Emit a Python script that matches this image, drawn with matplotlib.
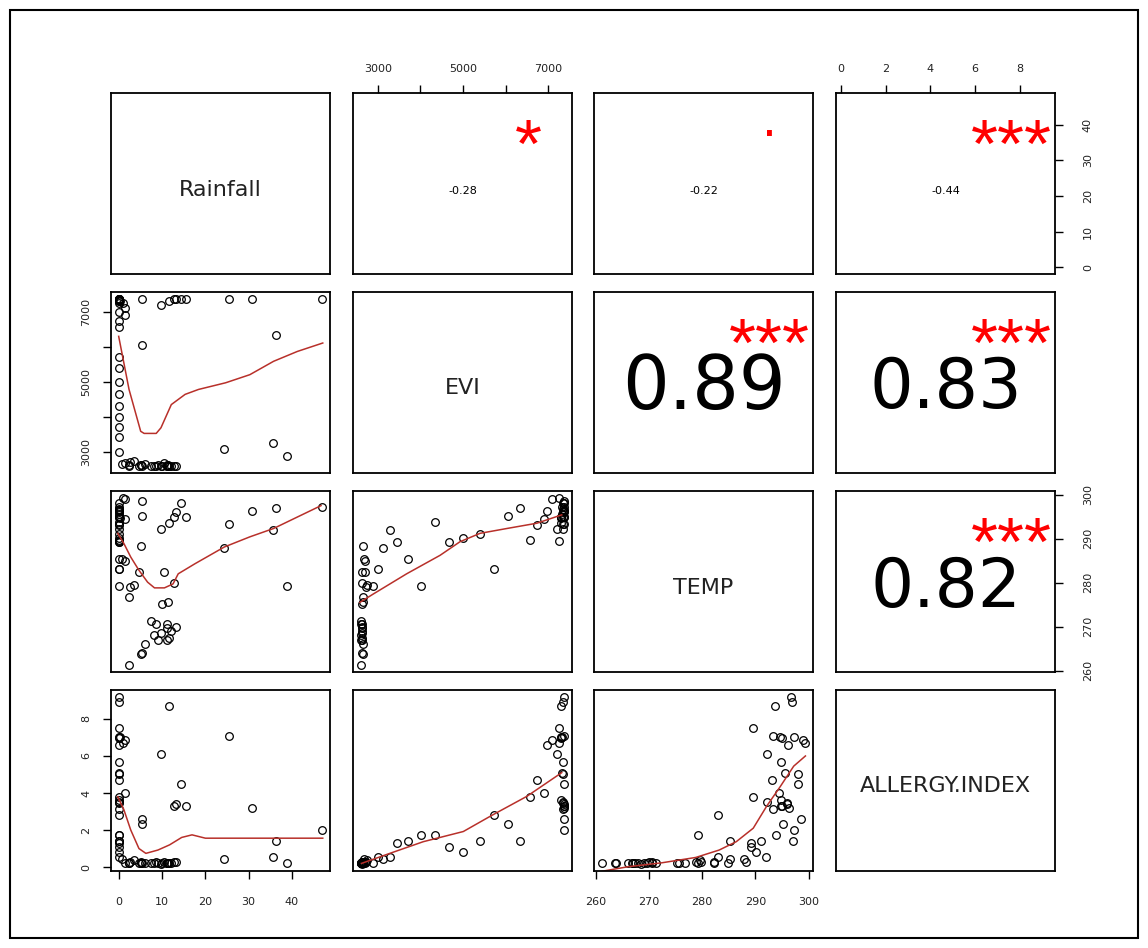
import matplotlib
matplotlib.use('Agg')
import matplotlib.pyplot as plt
from matplotlib import transforms
from matplotlib.patches import Rectangle

names = ['Rainfall', 'EVI', 'TEMP', 'ALLERGY.INDEX']

# observations: high-EVI group, intermediate group, low-EVI group
rain = [0.0, 0.0, 11.6, 0.0, 25.5, 0.0, 0.0, 0.3, 1.4, 0.0, 9.7, 0.0, 0.0, 0.0,
        0.0, 14.4, 1.4, 0.0, 0.0, 0.0, 0.0, 12.7, 15.4, 30.7, 0.0, 5.2, 47.0, 36.4,
        0.8, 13.2,
        5.4, 0.0, 0.0, 0.0, 0.0, 0.0, 0.0, 0.0, 0.0, 35.7, 24.4, 38.8, 0.0,
        5.0, 0.7, 1.4, 4.7, 10.5, 12.7, 2.6, 3.5, 2.4, 10.0, 11.4, 7.5, 8.5,
        11.0, 11.0, 9.6, 11.6, 11.0, 5.4, 5.1, 2.4, 8.0, 12.0, 13.2, 9.0, 6.0]
evi = [7370, 7350, 7300, 7250, 7370, 7330, 7300, 7310, 7100, 6980, 7200, 7340, 7320, 7360,
       6745, 7370, 6900, 6575, 7300, 7340, 7360, 7370, 7370, 7370, 7350, 7370, 7370, 6350,
       7255, 7370,
       6060, 5720, 5410, 5010, 4670, 4330, 4020, 3710, 3450, 3280, 3110, 2890, 3000,
       2650, 2680, 2700, 2620, 2700, 2620, 2720, 2750, 2650, 2620, 2640, 2610, 2620,
       2610, 2630, 2615, 2620, 2610, 2620, 2640, 2610, 2605, 2615, 2620, 2630, 2660]
temp = [296.6, 296.8, 293.6, 289.5, 293.3, 297.2, 295.0, 294.7, 299.0, 296.2, 292.2, 294.9, 295.6, 298.0,
        293.1, 298.0, 294.5, 289.6, 294.9, 292.2, 296.0, 294.9, 295.0, 296.3, 293.3, 298.6, 297.3, 297.0,
        299.3, 296.0,
        295.2, 283.0, 291.0, 290.1, 289.2, 293.8, 279.3, 285.3, 289.2, 292.0, 287.8, 279.3, 283.0,
        288.3, 285.3, 284.8, 282.3, 282.3, 279.8, 278.9, 279.5, 276.8, 275.2, 275.6, 271.3, 270.6,
        270.6, 269.7, 268.5, 267.4, 266.9, 263.9, 263.7, 261.2, 268.0, 269.0, 270.0, 267.0, 266.0]
allergy = [9.2, 8.9, 8.7, 7.5, 7.1, 7.0, 6.95, 7.0, 6.85, 6.6, 6.1, 5.65, 5.1, 5.0,
           4.7, 4.5, 4.0, 3.8, 3.6, 3.5, 3.45, 3.3, 3.3, 3.2, 3.15, 2.6, 2.0, 1.4,
           6.7, 3.4,
           2.3, 2.8, 1.4, 0.8, 1.1, 1.75, 1.75, 1.4, 1.3, 0.55, 0.45, 0.2, 0.55,
           0.3, 0.45, 0.2, 0.2, 0.25, 0.3, 0.25, 0.4, 0.2, 0.2, 0.2, 0.2, 0.25,
           0.2, 0.2, 0.15, 0.2, 0.2, 0.2, 0.2, 0.2, 0.2, 0.2, 0.25, 0.2, 0.2]

# smoother lines
sm_evi_rain_x = [-0.1, 2.3, 5.0, 5.8, 8.6, 9.7, 10.9, 12.1, 15.3, 18.4, 24.7, 30.3, 35.8, 41.3, 47.2]
sm_evi_rain_y = [6300, 4790, 3600, 3540, 3540, 3700, 4030, 4360, 4650, 4790, 4980, 5210, 5590, 5870, 6110]
sm_temp_rain_x = [-0.3, 1.1, 2.7, 4.6, 6.6, 8.2, 10.5, 12.5, 13.7, 17.6, 24.4, 30.3, 35.8, 46.8]
sm_temp_rain_y = [291.2, 288.9, 285.8, 282.8, 280.1, 278.8, 278.8, 279.7, 282.0, 284.3, 288.1, 290.4, 292.3, 297.5]
sm_all_rain_x = [-0.3, 1.1, 2.7, 4.6, 6.2, 9.0, 11.7, 14.5, 16.9, 20.0, 47.2]
sm_all_rain_y = [3.8, 3.1, 2.0, 1.0, 0.74, 0.92, 1.2, 1.6, 1.74, 1.56, 1.56]
sm_temp_evi_x = [2576, 2890, 3675, 4460, 4930, 5400, 6030, 6735, 7320]
sm_temp_evi_y = [275.5, 277.4, 282.0, 286.2, 289.3, 291.2, 292.3, 293.5, 295.4]
sm_all_evi_x = [2616, 3280, 4065, 5007, 5675, 6500, 7320]
sm_all_evi_y = [0.2, 0.74, 1.37, 1.92, 2.79, 3.82, 5.1]
sm_all_temp_x = [260.7, 266.1, 272.4, 278.8, 283.2, 286.4, 289.6, 292.1, 294.7, 297.2, 299.4]
sm_all_temp_y = [-0.25, 0.02, 0.23, 0.52, 0.92, 1.37, 2.1, 3.28, 4.36, 5.45, 6.0]

# upper panels: (row, col), correlation, stars
cor_cells = [(0, 1), (0, 2), (0, 3), (1, 2), (1, 3), (2, 3)]
cor_values = [-0.28, -0.22, -0.44, 0.89, 0.83, 0.82]
cor_stars = ['*', '.', '***', '***', '***', '***']

rain_ticks = [0, 10, 20, 30, 40]
evi_ticks = [3000, 4000, 5000, 6000, 7000]
evi_labels = ['3000', '', '5000', '', '7000']
temp_ticks = [260, 270, 280, 290, 300]
allergy_ticks = [0, 2, 4, 6, 8]

data = [rain, evi, temp, allergy]
ticks = [rain_ticks, evi_ticks, temp_ticks, allergy_ticks]
labels = [[str(t) for t in rain_ticks], evi_labels,
          [str(t) for t in temp_ticks], [str(t) for t in allergy_ticks]]
smooth = {(1, 0): (sm_evi_rain_x, sm_evi_rain_y), (2, 0): (sm_temp_rain_x, sm_temp_rain_y),
          (3, 0): (sm_all_rain_x, sm_all_rain_y), (2, 1): (sm_temp_evi_x, sm_temp_evi_y),
          (3, 1): (sm_all_evi_x, sm_all_evi_y), (3, 2): (sm_all_temp_x, sm_all_temp_y)}


def rlim(v):
    lo, hi = min(v), max(v)
    e = (hi - lo) * 0.04
    return lo - e, hi + e


def shifted(ax, dy):
    return transforms.offset_copy(ax.transAxes, fig=fig, x=0, y=dy, units='dots')


lims = [rlim(v) for v in data]

fig = plt.figure(figsize=(11.48, 9.48), dpi=100)
FW, FH = 1148, 948
col_left = [111, 353, 594, 836]
row_top = [93, 292, 491, 690]
PW, PH = 219, 181
tick_col = '#222222'

for i in range(4):
    for j in range(4):
        ax = fig.add_axes([col_left[j] / FW, 1 - (row_top[i] + PH) / FH, PW / FW, PH / FH])
        ax.set_xlim(lims[j])
        ax.set_ylim(lims[i])
        for s in ax.spines.values():
            s.set_linewidth(1.3)
        ax.set_xticks([])
        ax.set_yticks([])
        ax.tick_params(direction='out', length=6, width=1, colors='black', labelsize=8,
                       labelcolor=tick_col, pad=8)

        if i == 0 and j in (1, 3):
            ax.xaxis.tick_top()
            ax.set_xticks(ticks[j])
            ax.set_xticklabels(labels[j])
        if i == 3 and j in (0, 2):
            ax.set_xticks(ticks[j])
            ax.set_xticklabels(labels[j])
            ax.tick_params(axis='x', pad=13)
        if j == 0 and i in (1, 3):
            ax.set_yticks(ticks[i])
            ax.set_yticklabels(labels[i], rotation=90, va='center')
        if j == 3 and i in (0, 2):
            ax.yaxis.tick_right()
            ax.set_yticks(ticks[i])
            ax.set_yticklabels(labels[i], rotation=90, va='center')
            ax.tick_params(axis='y', pad=14)

        if i == j:
            ax.text(0.5, 0.5, names[i], transform=shifted(ax, -6), ha='center', va='center',
                    fontsize=16, color='#222222')
        elif i > j:
            ax.plot(data[j], data[i], 'o', mfc='none', mec='black', ms=5.5, mew=0.9)
            sx, sy = smooth[(i, j)]
            ax.plot(sx, sy, color='#b8302a', lw=1.1)

for (i, j), r, sig in zip(cor_cells, cor_values, cor_stars):
    ax = fig.axes[i * 4 + j]
    if r < 0:
        ax.text(0.5, 0.5, '%.2f' % r, transform=shifted(ax, -8), ha='center', va='center',
                fontsize=8, color='black')
    else:
        ax.text(0.5, 0.5, '%.2f' % r, transform=shifted(ax, -6), ha='center', va='center',
                fontsize=59.5 * abs(r), color='black')
    if sig == '.':
        ax.text(0.8, 0.8, sig, transform=shifted(ax, -7), ha='center', va='baseline',
                fontsize=34, color='red', clip_on=True)
    else:
        ax.text(0.8, 0.8, sig, transform=shifted(ax, -38), ha='center', va='baseline',
                fontsize=50, family='Liberation Sans', color='red', clip_on=True)

fig.add_artist(Rectangle((10 / FW, 10 / FH), 1128 / FW, 928 / FH, transform=fig.transFigure,
                         fill=False, lw=1.5, ec='black'))

fig.savefig('out.png', dpi=100)
